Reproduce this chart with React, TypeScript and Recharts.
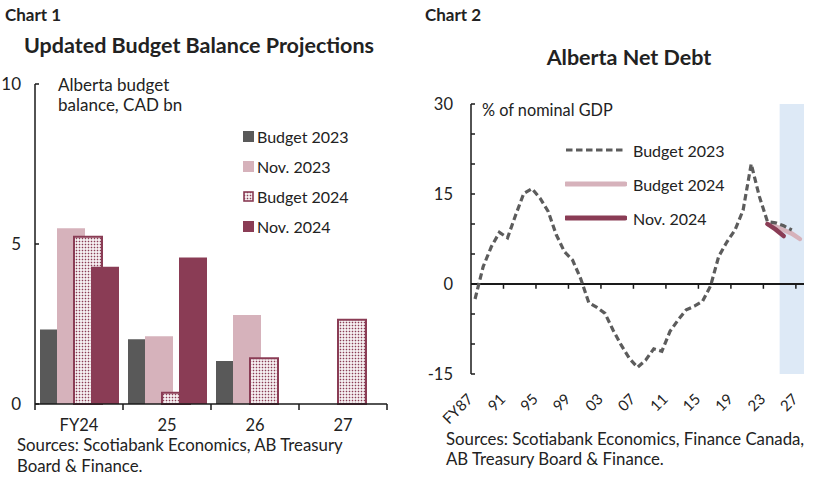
import React from "react";
import {
  BarChart,
  Bar,
  LineChart,
  Line,
  XAxis,
  YAxis,
  ReferenceLine,
  ReferenceArea,
} from "recharts";

const FONT = "Lato, 'Noto Sans', sans-serif";
const INK = "#222222";
const AXIS = "#1a1a1a";
const GREY = "#595959";
const PINK = "#d6b2bb";
const WINE = "#8a3c55";
const DASH = "#5c5c5c";
const SHADE = "#dde9f6";

// Chart 1 — Alberta budget balance, CAD bn
const balanceYears = ["FY24", "25", "26", "27"];
const balBudget2023 = [2.33, 2.02, 1.34, null];
const balNov2023 = [5.49, 2.12, 2.78, null];
const balBudget2024 = [5.23, 0.35, 1.43, 2.63];
const balNov2024 = [4.29, 4.58, null, null];
const balanceTicks = [0, 5, 10];

// Chart 2 — Alberta net debt, % of nominal GDP
const debtYears = [
  1987, 1988, 1989, 1990, 1991, 1992, 1993, 1994, 1995, 1996, 1997, 1998, 1999, 2000,
  2001, 2002, 2003, 2004, 2005, 2006, 2007, 2008, 2009, 2010, 2011, 2012, 2013, 2014,
  2015, 2016, 2017, 2018, 2019, 2020, 2021, 2022, 2023, 2024, 2025, 2026, 2027,
];
const debtBudget2023 = [
  -2.5, 2.9, 6.2, 8.6, 7.7, 11.5, 15.1, 15.9, 14.3, 12.1, 8.2, 5.4, 4.0, 0.9,
  -3.1, -3.9, -4.9, -7.7, -10.2, -12.4, -13.9, -12.7, -10.8, -11.2, -7.9, -6.0, -4.3, -3.7,
  -2.9, -0.3, 4.6, 7.0, 9.0, 12.3, 20.0, 14.6, 10.4, 10.2, 9.7, 9.0, null,
];
const debtBudget2024 = [
  null, null, null, null, null, null, null, null, null, null, null, null, null, null,
  null, null, null, null, null, null, null, null, null, null, null, null, null, null,
  null, null, null, null, null, null, null, null, 10.0, 9.6, 9.0, 8.4, 7.5,
];
const debtNov2024 = [
  null, null, null, null, null, null, null, null, null, null, null, null, null, null,
  null, null, null, null, null, null, null, null, null, null, null, null, null, null,
  null, null, null, null, null, null, null, null, 10.0, 9.1, 8.0, null, null,
];
const debtTickYears = [1987, 1991, 1995, 1999, 2003, 2007, 2011, 2015, 2019, 2023, 2027];
const debtYTicks = [-15, -10, -5, 0, 5, 10, 15, 20, 25, 30];
const forecastFrom = 2025;

const balanceRows = balanceYears.map((label, i) => ({
  label,
  b23: balBudget2023[i],
  n23: balNov2023[i],
  b24: balBudget2024[i],
  n24: balNov2024[i],
}));

// each fiscal year sits in the middle of its slot, ticks mark slot edges
const debtRows = debtYears.map((yr, i) => ({
  pos: i + 0.5,
  b23: debtBudget2023[i],
  b24: debtBudget2024[i],
  n24: debtNov2024[i],
}));
const debtTicks = debtTickYears.map((y) => debtYears.indexOf(y));
const debtLabel = (t: number) => {
  const short = String(debtYears[t]).slice(2);
  return t === 0 ? `FY${short}` : short;
};

const BAL_TICK_GAP = 15;

// label in the middle of the category, tick marks on the category edges
function BalanceTick({ x, y, payload, width, visibleTicksCount, index }: any) {
  const half = width && visibleTicksCount ? width / visibleTicksCount / 2 : 0;
  const axisY = y - BAL_TICK_GAP;
  const isLast = index === visibleTicksCount - 1;
  return (
    <g>
      {half > 0 && (
        <line x1={x - half} x2={x - half} y1={axisY} y2={axisY + 6} stroke={AXIS} strokeWidth={1.5} />
      )}
      {half > 0 && isLast && (
        <line x1={x + half} x2={x + half} y1={axisY} y2={axisY + 6} stroke={AXIS} strokeWidth={1.5} />
      )}
      <text
        x={x}
        y={y}
        dy="0.71em"
        textAnchor="middle"
        fontSize={16.5}
        fontFamily={FONT}
        fill={INK}
      >
        {payload.value}
      </text>
    </g>
  );
}

function DebtTick({ x, y, payload }: any) {
  const ax = x + 3;
  return (
    <text
      x={ax}
      y={y}
      textAnchor="end"
      transform={`rotate(-45 ${ax} ${y})`}
      fontSize={15}
      fontFamily={FONT}
      fill={INK}
    >
      {debtLabel(payload.value)}
    </text>
  );
}

const txt = (extra: React.CSSProperties): React.CSSProperties => ({
  position: "absolute",
  whiteSpace: "nowrap",
  fontFamily: FONT,
  color: INK,
  ...extra,
});

function BalanceChart() {
  return (
    <div style={{ position: "absolute", left: 0, top: 0 }}>
      <BarChart
        width={410}
        height={483}
        data={balanceRows}
        margin={{ top: 84, right: 23, bottom: 49, left: 0 }}
        barSize={28}
        barGap={-11}
      >
        <XAxis
          dataKey="label"
          axisLine={{ stroke: AXIS, strokeWidth: 1.5 }}
          tickLine={false}
          tickSize={0}
          tickMargin={BAL_TICK_GAP}
          height={30}
          interval={0}
          tick={(p: any) => <BalanceTick {...p} />}
        />
        <YAxis
          domain={[0, 10]}
          ticks={balanceTicks}
          width={35}
          tickSize={-4}
          tickMargin={18}
          axisLine={{ stroke: AXIS, strokeWidth: 1.5 }}
          tickLine={{ stroke: AXIS, strokeWidth: 1.5 }}
          tick={{ fontSize: 17, fill: INK, fontFamily: FONT }}
        />
        <Bar dataKey="b23" fill={GREY} isAnimationActive={false} />
        <Bar dataKey="n23" fill={PINK} isAnimationActive={false} />
        <Bar
          dataKey="b24"
          fill="url(#dots)"
          stroke={WINE}
          strokeWidth={2}
          isAnimationActive={false}
        />
        <Bar dataKey="n24" fill={WINE} isAnimationActive={false} />
      </BarChart>
    </div>
  );
}

function DebtChart() {
  return (
    <div style={{ position: "absolute", left: 420, top: 0 }}>
      <LineChart
        width={408}
        height={483}
        data={debtRows}
        margin={{ top: 104, right: 24, bottom: 69, left: 11 }}
      >
        <ReferenceArea
          x1={debtYears.indexOf(forecastFrom)}
          x2={debtYears.length}
          y1={-15}
          y2={30}
          fill={SHADE}
          fillOpacity={1}
          stroke="none"
        />
        <XAxis
          type="number"
          dataKey="pos"
          domain={[0, debtYears.length]}
          ticks={debtTicks}
          allowDataOverflow
          axisLine={false}
          tickLine={false}
          tickSize={0}
          tickMargin={26}
          height={40}
          interval={0}
          tick={(p: any) => <DebtTick {...p} />}
        />
        <YAxis
          type="number"
          domain={[-15, 30]}
          ticks={debtYTicks}
          allowDataOverflow
          width={40}
          tickSize={-4}
          tickMargin={22}
          interval={0}
          tickFormatter={(v: number) => (v % 15 === 0 ? String(v) : "")}
          axisLine={{ stroke: AXIS, strokeWidth: 1.5 }}
          tickLine={{ stroke: AXIS, strokeWidth: 1.5 }}
          tick={{ fontSize: 16.5, fill: INK, fontFamily: FONT }}
        />
        <ReferenceLine y={0} stroke={AXIS} strokeWidth={1.8} />
        {debtTicks.slice(1).map((t) => (
          <ReferenceLine
            key={t}
            segment={[
              { x: t, y: 0 },
              { x: t, y: -0.8 },
            ]}
            stroke={AXIS}
            strokeWidth={1.5}
          />
        ))}
        <Line
          type="linear"
          dataKey="b24"
          stroke={PINK}
          strokeWidth={4.5}
          strokeLinecap="round"
          dot={false}
          isAnimationActive={false}
        />
        <Line
          type="linear"
          dataKey="b23"
          stroke={DASH}
          strokeWidth={3.2}
          strokeDasharray="6.5 3.5"
          dot={false}
          isAnimationActive={false}
        />
        <Line
          type="linear"
          dataKey="n24"
          stroke={WINE}
          strokeWidth={4.5}
          strokeLinecap="round"
          dot={false}
          isAnimationActive={false}
        />
      </LineChart>
    </div>
  );
}

const balanceLegend = [
  { name: "Budget 2023", kind: "solid", color: GREY },
  { name: "Nov. 2023", kind: "solid", color: PINK },
  { name: "Budget 2024", kind: "dots", color: WINE },
  { name: "Nov. 2024", kind: "solid", color: WINE },
];
const debtLegend = [
  { name: "Budget 2023", color: DASH, width: 3.2, dash: "6.5 3.5" },
  { name: "Budget 2024", color: PINK, width: 5, dash: undefined },
  { name: "Nov. 2024", color: WINE, width: 5, dash: undefined },
];

export default function App() {
  return (
    <div
      style={{
        position: "absolute",
        left: 0,
        top: 0,
        width: 828,
        height: 483,
        background: "#fff",
        overflow: "hidden",
      }}
    >
      <svg width={0} height={0} style={{ position: "absolute" }}>
        <defs>
          <pattern id="dots" width={3} height={3} patternUnits="userSpaceOnUse">
            <rect width={3} height={3} fill="#fff" />
            <rect x={0.7} y={0.7} width={1.6} height={1.6} fill={WINE} />
          </pattern>
        </defs>
      </svg>

      <BalanceChart />
      <DebtChart />

      <div style={txt({ left: 5, top: 5, fontSize: 17, lineHeight: "20px", fontWeight: 700 })}>
        Chart 1
      </div>
      <div style={txt({ left: 425, top: 5, fontSize: 17, lineHeight: "20px", fontWeight: 700 })}>
        Chart 2
      </div>
      <div
        style={txt({
          left: 0,
          width: 398,
          top: 32,
          textAlign: "center",
          fontSize: 21.5,
          lineHeight: "26px",
          fontWeight: 700,
        })}
      >
        Updated Budget Balance Projections
      </div>
      <div
        style={txt({
          left: 529,
          width: 200,
          top: 44,
          textAlign: "center",
          fontSize: 21.5,
          lineHeight: "26px",
          fontWeight: 700,
        })}
      >
        Alberta Net Debt
      </div>

      <div style={txt({ left: 58, top: 75, fontSize: 17, lineHeight: "20px" })}>
        Alberta budget
        <br />
        balance, CAD bn
      </div>
      <div style={txt({ left: 482, top: 100, fontSize: 16.3, lineHeight: "20px" })}>
        % of nominal GDP
      </div>

      <div style={{ position: "absolute", left: 243, top: 121 }}>
        {balanceLegend.map((it) => (
          <div
            key={it.name}
            style={{ display: "flex", alignItems: "center", height: 30 }}
          >
            <svg width={11} height={11} style={{ marginRight: 3 }}>
              {it.kind === "dots" ? (
                <rect x={1} y={1} width={9} height={9} fill="url(#dots)" stroke={WINE} strokeWidth={1.6} />
              ) : (
                <rect width={11} height={11} fill={it.color} />
              )}
            </svg>
            <span style={{ fontFamily: FONT, fontSize: 16, color: INK }}>{it.name}</span>
          </div>
        ))}
      </div>

      <div style={{ position: "absolute", left: 565, top: 133 }}>
        {debtLegend.map((it) => (
          <div
            key={it.name}
            style={{ display: "flex", alignItems: "center", height: 34 }}
          >
            <svg width={62} height={10} style={{ marginRight: 6 }}>
              <line
                x1={1}
                x2={60}
                y1={5}
                y2={5}
                stroke={it.color}
                strokeWidth={it.width}
                strokeDasharray={it.dash}
                strokeLinecap={it.dash ? "butt" : "round"}
              />
            </svg>
            <span style={{ fontFamily: FONT, fontSize: 16, color: INK }}>{it.name}</span>
          </div>
        ))}
      </div>

      <div style={txt({ left: 17, top: 434, fontSize: 16.8, lineHeight: "21px" })}>
        Sources: Scotiabank Economics, AB Treasury
        <br />
        Board &amp; Finance.
      </div>
      <div style={txt({ left: 446, top: 429, fontSize: 16.8, lineHeight: "20px" })}>
        Sources: Scotiabank Economics, Finance Canada,
        <br />
        AB Treasury Board &amp; Finance.
      </div>
    </div>
  );
}
